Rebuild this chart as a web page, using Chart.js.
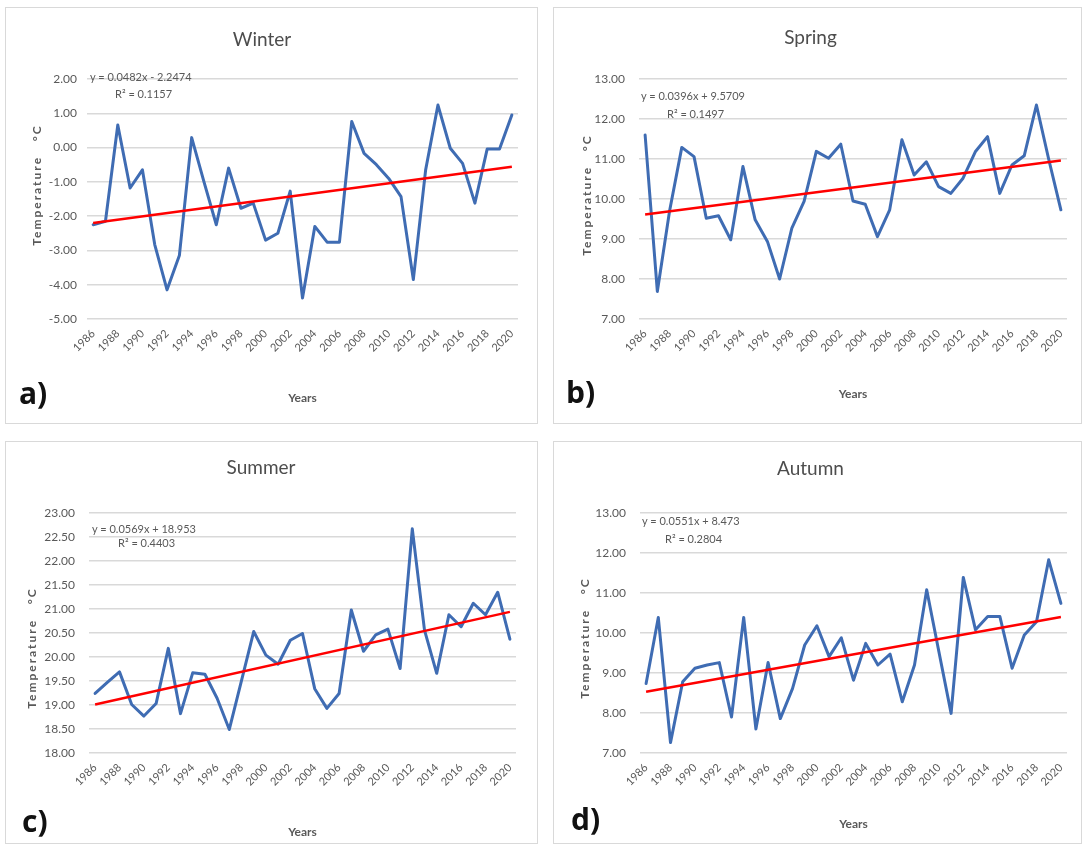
<!DOCTYPE html>
<html><head><meta charset="utf-8">
<script src="https://cdn.jsdelivr.net/npm/chart.js@4.4.1/dist/chart.umd.min.js"></script>
<style>
body{margin:0;background:#fff;width:1085px;height:852px;position:relative;overflow:hidden;font-family:Lato,sans-serif}
.panel{position:absolute;background:#fff;box-shadow:0 0 0 1px #d9d9d9}
.panel canvas{position:absolute;left:0;top:0}
.eq{position:absolute;font-size:11px;line-height:12px;color:#595959;white-space:pre}
.letter{position:absolute;font-family:'Open Sans',sans-serif;font-weight:700;font-size:30px;line-height:30px;color:#111}
</style></head><body>

<div class="panel" style="left:6px;top:8px;width:531px;height:415px">
  <canvas id="cA" width="531" height="415"></canvas>
  <div class="eq" style="left:84px;top:63px">y = 0.0482x - 2.2474</div>
  <div class="eq" style="left:109px;top:80px">R² = 0.1157</div>
  <div class="letter" style="left:13px;top:370px">a)</div>
</div>
<div class="panel" style="left:554px;top:8px;width:527px;height:415px">
  <canvas id="cB" width="527" height="415"></canvas>
  <div class="eq" style="left:87px;top:82px">y = 0.0396x + 9.5709</div>
  <div class="eq" style="left:113px;top:100px">R² = 0.1497</div>
  <div class="letter" style="left:12px;top:369px">b)</div>
</div>
<div class="panel" style="left:6px;top:442px;width:531px;height:401px">
  <canvas id="cC" width="531" height="401"></canvas>
  <div class="eq" style="left:86px;top:81px">y = 0.0569x + 18.953</div>
  <div class="eq" style="left:112px;top:95px">R² = 0.4403</div>
  <div class="letter" style="left:16px;top:364px">c)</div>
</div>
<div class="panel" style="left:554px;top:442px;width:527px;height:401px">
  <canvas id="cD" width="527" height="401"></canvas>
  <div class="eq" style="left:88px;top:73px">y = 0.0551x + 8.473</div>
  <div class="eq" style="left:111px;top:91px">R² = 0.2804</div>
  <div class="letter" style="left:17px;top:362px">d)</div>
</div>

<script>
// ---- data ----
const years = ['1986','1987','1988','1989','1990','1991','1992','1993','1994','1995','1996','1997','1998','1999','2000','2001','2002','2003','2004','2005','2006','2007','2008','2009','2010','2011','2012','2013','2014','2015','2016','2017','2018','2019','2020'];
const tickYears = ['1986','1988','1990','1992','1994','1996','1998','2000','2002','2004','2006','2008','2010','2012','2014','2016','2018','2020'];

const winterTemp = [-2.25,-2.15,0.66,-1.18,-0.65,-2.83,-4.15,-3.15,0.29,-1.0,-2.25,-0.6,-1.77,-1.62,-2.7,-2.5,-1.27,-4.39,-2.3,-2.76,-2.76,0.76,-0.17,-0.5,-0.9,-1.43,-3.85,-0.65,1.24,-0.02,-0.46,-1.62,-0.04,-0.04,0.95];
const springTemp = [11.6,7.69,9.7,11.29,11.06,9.52,9.58,8.98,10.81,9.48,8.94,8.0,9.27,9.94,11.19,11.02,11.37,9.95,9.87,9.06,9.73,11.48,10.6,10.93,10.31,10.14,10.52,11.18,11.56,10.14,10.85,11.08,12.35,11.0,9.73];
const summerTemp = [19.24,19.47,19.69,19.01,18.77,19.03,20.18,18.82,19.67,19.64,19.14,18.49,19.51,20.53,20.04,19.85,20.35,20.49,19.34,18.93,19.24,20.98,20.12,20.46,20.58,19.76,22.67,20.56,19.66,20.88,20.63,21.12,20.88,21.35,20.37];
const autumnTemp = [8.74,10.39,7.26,8.78,9.12,9.2,9.26,7.9,10.39,7.6,9.26,7.86,8.61,9.7,10.18,9.41,9.88,8.82,9.74,9.2,9.47,8.28,9.2,11.08,9.53,7.99,11.39,10.08,10.41,10.41,9.12,9.95,10.28,11.83,10.74];

// trend line end values (1986, 2020)
const winterTrend = [-2.20, -0.56];
const springTrend = [9.61, 10.96];
const summerTrend = [19.01, 20.94];
const autumnTrend = [8.53, 10.40];

// y axis ticks [min, max, step]
const winterTicks = [-5, 2, 1];
const springTicks = [7, 13, 1];
const summerTicks = [18, 23, 0.5];
const autumnTicks = [7, 13, 1];

const seasonTitles = ['Winter', 'Spring', 'Summer', 'Autumn'];

// ---- rendering ----
Chart.defaults.font.family = "Lato, 'Open Sans', sans-serif";

const yTitleShift = {
  id: 'yTitleShift',
  beforeDraw(chart, args, opts) {
    const s = chart.scales.y;
    if (s && !s.__wrapped) {
      const orig = s.drawTitle;
      s.drawTitle = function () {
        const ctx = this.ctx;
        ctx.save();
        ctx.translate(0, opts.dy || 0);
        if ('letterSpacing' in ctx) ctx.letterSpacing = (opts.spacing || 0) + 'px';
        orig.call(this);
        ctx.restore();
      };
      s.__wrapped = true;
    }
  }
};

function makeChart(id, title, values, trend, yr, p) {
  const tfs = 19, xfs = 12, yfs = 12;
  const axisBottom = p.yearsY + xfs * 0.6;
  new Chart(document.getElementById(id), {
    type: 'line',
    data: {
      labels: years,
      datasets: [
        { data: [{x: years[0], y: trend[0]}, {x: years[years.length - 1], y: trend[1]}],
          borderColor: '#ff0000', borderWidth: 2.5, pointRadius: 0, tension: 0 },
        { data: values, borderColor: '#3f6cb3', borderWidth: 3, pointRadius: 0, tension: 0,
          borderJoinStyle: 'round', borderCapStyle: 'round' }
      ]
    },
    options: {
      responsive: false, animation: false, events: [],
      layout: { padding: { left: 0, top: 0, right: p.W - p.right, bottom: p.H - axisBottom } },
      plugins: {
        legend: { display: false }, tooltip: { enabled: false },
        title: { display: true, text: title, color: '#4d4d4d', font: { size: tfs, weight: 'normal' },
                 padding: { top: p.titleY - tfs * 0.6, bottom: p.top - p.titleY - tfs * 0.6 } },
        yTitleShift: { dy: p.yTitleDy, spacing: 2 }
      },
      scales: {
        x: {
          type: 'category', offset: true,
          grid: { display: false, drawTicks: false }, border: { display: false },
          ticks: { autoSkip: false, maxRotation: 45, minRotation: 45, padding: p.xTickPad, color: '#595959',
                   font: { size: 11 },
                   callback(v, i) { const l = years[i]; return tickYears.includes(l) ? l : ''; } },
          title: { display: true, text: 'Years', color: '#595959', font: { size: xfs, weight: 'bold' }, padding: 0 },
          afterFit(s) { s.height = axisBottom - p.bottom; }
        },
        y: {
          min: yr[0], max: yr[1],
          ticks: { stepSize: yr[2], padding: p.yTickPad, color: '#595959', font: { size: 12 },
                   callback: v => Number(v).toFixed(2) },
          grid: { color: '#d9d9d9', lineWidth: 1.5, drawTicks: false }, border: { display: false },
          title: { display: true, text: 'Temperature   °C', color: '#595959', font: { size: yfs, weight: 'bold' },
                   padding: { top: p.yTitleX - yfs * 0.6, bottom: 0 } },
          afterFit(s) { s.width = p.left; }
        }
      }
    },
    plugins: [yTitleShift]
  });
}

makeChart('cA', seasonTitles[0], winterTemp, winterTrend, winterTicks,
  {W:531,H:415,left:81,right:512,top:71,bottom:311,titleY:32,yearsY:390,yTitleX:31,yTitleDy:-14,yTickPad:10,xTickPad:8});
makeChart('cB', seasonTitles[1], springTemp, springTrend, springTicks,
  {W:527,H:415,left:85,right:513,top:71,bottom:311,titleY:30,yearsY:386,yTitleX:33,yTitleDy:-4,yTickPad:14,xTickPad:8});
makeChart('cC', seasonTitles[2], summerTemp, summerTrend, summerTicks,
  {W:531,H:401,left:83,right:510,top:71,bottom:311,titleY:26,yearsY:390,yTitleX:26,yTitleDy:15,yTickPad:14,xTickPad:8});
makeChart('cD', seasonTitles[3], autumnTemp, autumnTrend, autumnTicks,
  {W:527,H:401,left:86,right:513,top:71,bottom:311,titleY:27,yearsY:382,yTitleX:31,yTitleDy:5,yTickPad:14,xTickPad:8});
</script>
</body></html>
